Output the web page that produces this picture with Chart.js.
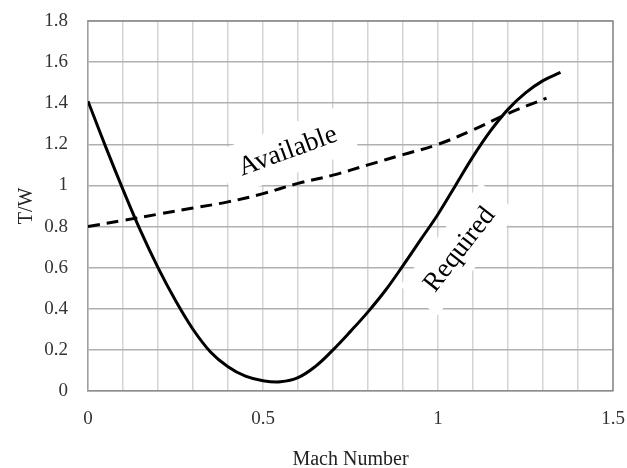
<!DOCTYPE html>
<html>
<head>
<meta charset="utf-8">
<script src="https://cdn.jsdelivr.net/npm/chart.js@4"></script>
<style>
  html, body { margin: 0; padding: 0; background: #fff; }
  #wrap { width: 627px; height: 468px; }
</style>
</head>
<body>
<div id="wrap"><canvas id="myChart"></canvas></div>
<script>
// values
const machRequired = [0, 0.05, 0.1, 0.15, 0.2, 0.25, 0.3, 0.35, 0.4, 0.45, 0.5, 0.55, 0.6, 0.65, 0.7, 0.75, 0.8, 0.85, 0.9, 0.95, 1.0, 1.05, 1.1, 1.15, 1.2, 1.25, 1.3, 1.35];
const twRequired   = [1.41, 1.19, 0.98, 0.78, 0.60, 0.44, 0.30, 0.19, 0.118, 0.072, 0.05, 0.045, 0.065, 0.12, 0.20, 0.29, 0.385, 0.49, 0.61, 0.735, 0.86, 1.0, 1.14, 1.265, 1.37, 1.45, 1.51, 1.55];

const machAvailable = [0, 0.1, 0.2, 0.3, 0.4, 0.5, 0.6, 0.7, 0.8, 0.9, 1.0, 1.1, 1.2, 1.31];
const twAvailable   = [0.80, 0.83, 0.86, 0.89, 0.92, 0.96, 1.01, 1.05, 1.10, 1.15, 1.20, 1.27, 1.35, 1.425];

const xTickLabels = ["0", "0.5", "1", "1.5"];

const curveLabels = [
  { text: "Available", x: 0.57, y: 1.17, angle: -20 },
  { text: "Required",  x: 1.06, y: 0.69, angle: -52 }
];

function toPoints(xs, ys) {
  return xs.map((x, i) => ({ x: x, y: ys[i] }));
}

const serif = "'Liberation Serif', 'DejaVu Serif', serif";

const labelBoxes = {
  id: "labelBoxes",
  beforeDatasetsDraw(chart) {
    const ctx = chart.ctx;
    const xs = chart.scales.x, ys = chart.scales.y;
    curveLabels.forEach(l => {
      const px = xs.getPixelForValue(l.x);
      const py = ys.getPixelForValue(l.y);
      ctx.save();
      ctx.translate(px, py);
      ctx.rotate(l.angle * Math.PI / 180);
      ctx.font = "27px " + serif;
      const w = ctx.measureText(l.text).width;
      ctx.fillStyle = "#ffffff";
      ctx.fillRect(-w / 2 - 16, -24, w + 32, 48);
      ctx.fillStyle = "#000000";
      ctx.textAlign = "center";
      ctx.textBaseline = "middle";
      ctx.fillText(l.text, 0, 1);
      ctx.restore();
    });
  },
  afterDraw(chart) {
    const ctx = chart.ctx;
    const a = chart.chartArea;
    ctx.save();
    ctx.strokeStyle = "#8a8a8a";
    ctx.lineWidth = 1.5;
    ctx.beginPath();
    ctx.moveTo(a.left, a.top);
    ctx.lineTo(a.right, a.top);
    ctx.lineTo(a.right, a.bottom);
    ctx.stroke();
    ctx.restore();
  }
};

var ctx = document.getElementById("myChart").getContext("2d");
var myChart = new Chart(ctx, {
  type: "scatter",
  data: {
    datasets: [{
      label: "Required",
      data: toPoints(machRequired, twRequired),
      showLine: true,
      borderColor: "#000000",
      borderWidth: 3,
      pointRadius: 0,
      tension: 0.4
    }, {
      label: "Available",
      data: toPoints(machAvailable, twAvailable),
      showLine: true,
      borderColor: "#000000",
      borderWidth: 3,
      borderDash: [12, 7],
      pointRadius: 0,
      tension: 0.4
    }]
  },
  options: {
    responsive: true,
    maintainAspectRatio: false,
    animation: false,
    layout: { padding: { left: 11, right: 14, top: 21, bottom: 0 } },
    plugins: {
      legend: { display: false },
      tooltip: { enabled: false }
    },
    scales: {
      x: {
        type: "linear",
        min: 0,
        max: 1.5,
        afterFit: s => { s.height = 77; s.paddingLeft = 0; s.paddingRight = 0; },
        ticks: {
          stepSize: 0.1,
          autoSkip: false,
          maxRotation: 0,
          padding: 17,
          color: "#333333",
          font: { family: serif, size: 19 },
          callback: v => {
            const k = Math.round(v * 10);
            return k % 5 === 0 ? xTickLabels[k / 5] : "";
          }
        },
        grid: { color: "#d4d4d4", lineWidth: 1.5, drawTicks: false },
        border: { color: "#8c8c8c", width: 1.5 },
        title: {
          display: true,
          text: "Mach Number",
          color: "#222222",
          padding: { top: 4, bottom: 0 },
          font: { family: serif, size: 20, lineHeight: 0.8 }
        }
      },
      y: {
        min: 0,
        max: 1.8,
        afterFit: s => { s.width = 77; s.paddingTop = 0; s.paddingBottom = 0; },
        ticks: {
          stepSize: 0.2,
          padding: 20,
          color: "#333333",
          font: { family: serif, size: 19 },
          callback: v => String(+v.toFixed(1))
        },
        grid: { color: "#b0b0b0", lineWidth: 1.5, drawTicks: false },
        border: { color: "#a0a0a0", width: 1.5 },
        title: {
          display: true,
          text: "T/W",
          color: "#222222",
          font: { family: serif, size: 20, lineHeight: 1.2 }
        }
      }
    }
  },
  plugins: [labelBoxes]
});
</script>
</body>
</html>
